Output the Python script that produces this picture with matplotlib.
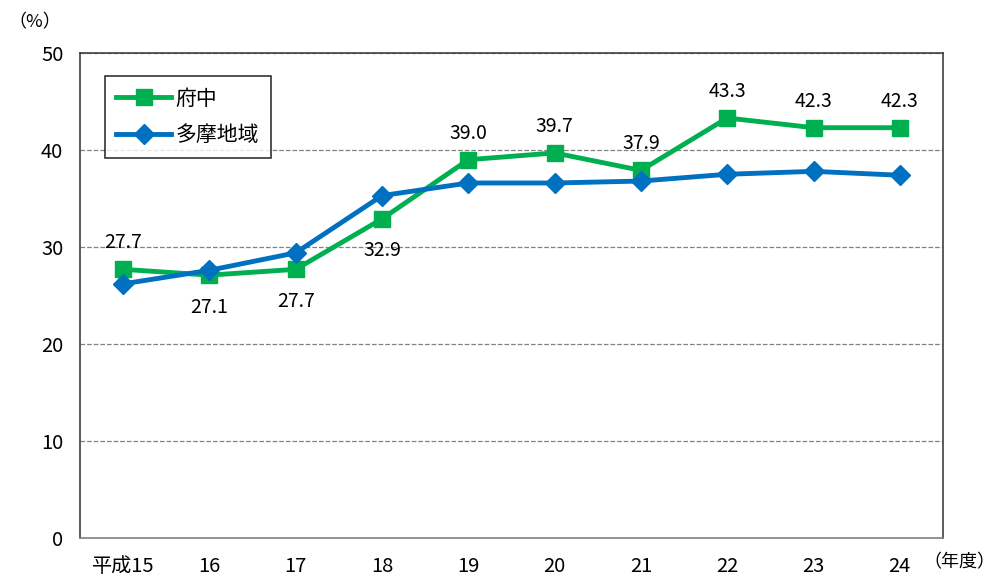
import matplotlib.pyplot as plt

plt.rcParams['font.family'] = ['Noto Sans CJK JP', 'DejaVu Sans']

years = ['平成15', '16', '17', '18', '19', '20', '21', '22', '23', '24']
fuchu = [27.7, 27.1, 27.7, 32.9, 39.0, 39.7, 37.9, 43.3, 42.3, 42.3]
tama = [26.2, 27.6, 29.4, 35.3, 36.6, 36.6, 36.8, 37.5, 37.8, 37.4]
# label above (1) or below (-1) the green point
label_side = [1, -1, -1, -1, 1, 1, 1, 1, 1, 1]

green = '#00b050'
blue = '#0070c0'

fig = plt.figure(figsize=(9.95, 5.8), dpi=100)
ax = fig.add_axes([0.0804, 0.0724, 0.8673, 0.8362])

x = list(range(len(years)))
ax.plot(x, fuchu, color=green, lw=3.5, marker='s', ms=11, label='府中', zorder=3)
ax.plot(x, tama, color=blue, lw=3.5, marker='D', ms=10, label='多摩地域', zorder=4)

for i, v in enumerate(fuchu):
    off = 19 if label_side[i] > 0 else -23
    ax.annotate(f'{v:.1f}', (i, v), xytext=(0, off), textcoords='offset points',
                ha='center', va='center', fontsize=14)

ax.set_xlim(-0.5, 9.5)
ax.set_ylim(0, 50)
ax.set_yticks([0, 10, 20, 30, 40, 50])
ax.set_xticks(x)
ax.set_xticklabels(years)
ax.tick_params(axis='both', length=0, labelsize=14.5)
ax.tick_params(axis='x', pad=13)
ax.tick_params(axis='y', pad=12)
ax.yaxis.grid(True, linestyle='--', color='#808080', lw=0.9)
ax.set_axisbelow(True)
for s in ['left', 'right', 'top']:
    ax.spines[s].set_color('#404040')
    ax.spines[s].set_linewidth(1.2)
ax.spines['bottom'].set_color('#808080')
ax.spines['bottom'].set_linewidth(1.2)

leg = ax.legend(loc='upper left', bbox_to_anchor=(0.029, 0.952), fontsize=15,
                frameon=True, fancybox=False, edgecolor='black', handlelength=2.6,
                handletextpad=0.25, borderpad=0.55, labelspacing=0.7, borderaxespad=0)
leg.get_frame().set_linewidth(1.2)

fig.text(0.008, 0.962, '（%）', fontsize=13, va='center')
fig.text(0.928, 0.03, '（年度）', fontsize=13, va='center')

fig.savefig('out.png', dpi=100)
